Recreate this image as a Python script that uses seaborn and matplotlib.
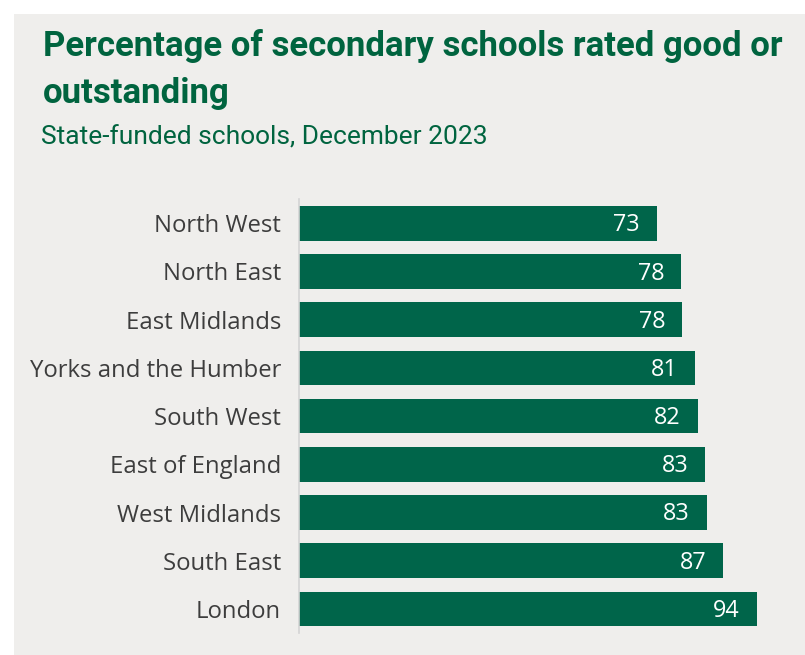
import matplotlib
matplotlib.use("Agg")
import matplotlib.pyplot as plt
import seaborn as sns
import pandas as pd
from matplotlib.patches import Rectangle

regions = ["North West", "North East", "East Midlands", "Yorks and the Humber",
           "South West", "East of England", "West Midlands", "South East", "London"]
values = [73.2, 78.2, 78.4, 81.0, 81.6, 83.1, 83.4, 86.8, 93.6]
value_labels = [f"{v:.0f}" for v in values]
title_lines = ["Percentage of secondary schools rated good or", "outstanding"]
subtitle = "State-funded schools, December 2023"

BG = "#efeeec"
GREEN = "#00654a"
TITLE_GREEN = "#00643f"
TEXT_GREY = "#3d3d3d"

sns.set_theme(style="white")
plt.rcParams["font.family"] = ["Open Sans", "DejaVu Sans"]

W, H = 805, 655
fig = plt.figure(figsize=(W / 100, H / 100), dpi=100, facecolor="white")
fig.patches.append(Rectangle((14 / W, 0), 1 - 14 / W, 1 - 14 / H,
                             transform=fig.transFigure, facecolor=BG,
                             edgecolor="none", zorder=-10))

ax = fig.add_axes([298.5 / W, 22 / H, 488 / W, 433.8 / H])
ax.set_facecolor(BG)

df = pd.DataFrame({"region": regions, "value": values})
sns.barplot(data=df, x="value", y="region", color=GREEN, saturation=1,
            width=0.72, ax=ax, orient="h", linewidth=0)

ax.set_xlim(0, 99.7)
ax.set_ylim(8.5, -0.5)
ax.set_xlabel("")
ax.set_ylabel("")
ax.set_xticks([])
for s in ["top", "right", "bottom"]:
    ax.spines[s].set_visible(False)
ax.spines["left"].set_color("#d4d4d4")
ax.spines["left"].set_linewidth(1.2)
ax.tick_params(axis="y", length=0, pad=12.5, labelcolor=TEXT_GREY)

renderer = fig.canvas.get_renderer()

# fit tick label size to reference width of widest label
for lab in ax.get_yticklabels():
    lab.set_fontsize(16)
    lab.set_family(["Open Sans", "DejaVu Sans"])
widest = [l for l in ax.get_yticklabels() if l.get_text() == "Yorks and the Humber"][0]
w = widest.get_window_extent(renderer).width
tick_size = 16 * 251 / w
for lab in ax.get_yticklabels():
    lab.set_fontsize(tick_size)

val_size = tick_size * 0.98
for i, (v, lab) in enumerate(zip(values, value_labels)):
    ax.annotate(lab, xy=(v, i), xytext=(-17, -2), textcoords="offset pixels",
                ha="right", va="center", color="white", fontsize=val_size,
                family=["Open Sans", "DejaVu Sans"])

t1 = fig.text(43 / W, 1 - 56 / H, title_lines[0], ha="left", va="baseline",
              color=TITLE_GREEN, fontsize=22, fontweight="bold",
              family=["Roboto", "DejaVu Sans"])
w1 = t1.get_window_extent(renderer).width
title_size = 22 * 739 / w1
t1.set_fontsize(title_size)
fig.text(43 / W, 1 - 102.7 / H, title_lines[1], ha="left", va="baseline",
         color=TITLE_GREEN, fontsize=title_size, fontweight="bold",
         family=["Roboto", "DejaVu Sans"])

st = fig.text(41 / W, 1 - 144 / H, subtitle, ha="left", va="baseline",
              color=TITLE_GREEN, fontsize=16, family=["Roboto", "DejaVu Sans"])
ws = st.get_window_extent(renderer).width
st.set_fontsize(16 * 447 / ws)

fig.savefig("out.png", dpi=100, facecolor="white")
